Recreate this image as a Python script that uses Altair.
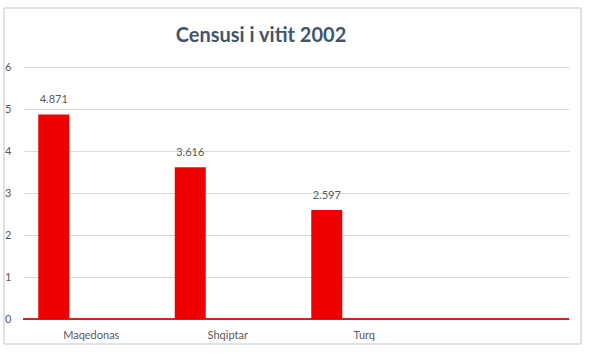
import altair as alt
import pandas as pd

categories = ["Maqedonas", "Shqiptar", "Turq"]
values = [4.871, 3.616, 2.597]
x_domain = ["Maqedonas", "Shqiptar", "Turq", ""]
y_ticks = [0, 1, 2, 3, 4, 5, 6]
title_text = "Censusi i vitit 2002"

df = pd.DataFrame({"cat": categories, "val": values})

FONT = "Lato"
TXT = "#595959"

x_scale = alt.Scale(domain=x_domain, paddingInner=0, paddingOuter=0)
y_scale = alt.Scale(domain=[0, 6], nice=False)

x_axis = alt.Axis(
    title=None, labelAngle=0, ticks=False, domain=False, labelPadding=10,
    labelFont=FONT, labelFontSize=11, labelColor=TXT, grid=False,
)
y_axis = alt.Axis(
    title=None, values=y_ticks, ticks=False, domain=False, grid=True,
    gridColor="#D9D9D9", gridWidth=1, labelPadding=12, labelFont=FONT,
    labelFontSize=11, labelColor=TXT,
)

frame = alt.Chart(df).mark_rect(fill=None, stroke="#D9DEE4", strokeWidth=1).encode(
    x=alt.value(-19), x2=alt.value(558), y=alt.value(-59), y2=alt.value(277)
)

bars = alt.Chart(df).mark_bar(color="#EE0000", width=31, xOffset=-37.5).encode(
    x=alt.X("cat:N", scale=x_scale, sort=x_domain, axis=x_axis),
    y=alt.Y("val:Q", scale=y_scale, axis=y_axis),
)

baseline = alt.Chart(df).mark_rule(color="#E00000", strokeWidth=1).encode(
    y=alt.datum(0, scale=y_scale)
)

labels = alt.Chart(df).mark_text(
    xOffset=-37.5, dy=-9, baseline="bottom", font=FONT, fontSize=11, color=TXT
).encode(
    x=alt.X("cat:N", scale=x_scale, sort=x_domain, axis=x_axis),
    y=alt.Y("val:Q", scale=y_scale, axis=y_axis),
    text=alt.Text("val:Q", format=".3f"),
)

chart = alt.layer(frame, bars, baseline, labels).properties(
    width=546,
    height=252,
    title=alt.TitleParams(
        title_text, font=FONT, fontSize=20, fontWeight="bold", color="#44546A",
        anchor="middle", frame="group", dx=-35, offset=-38,
    ),
    autosize=alt.AutoSizeParams(type="none"),
    padding={"left": 23, "top": 67, "right": 25, "bottom": 38},
).configure(background="white", view=alt.ViewConfig(stroke=None))

chart.save("out.html", embed_options={"renderer": "svg", "actions": False})
